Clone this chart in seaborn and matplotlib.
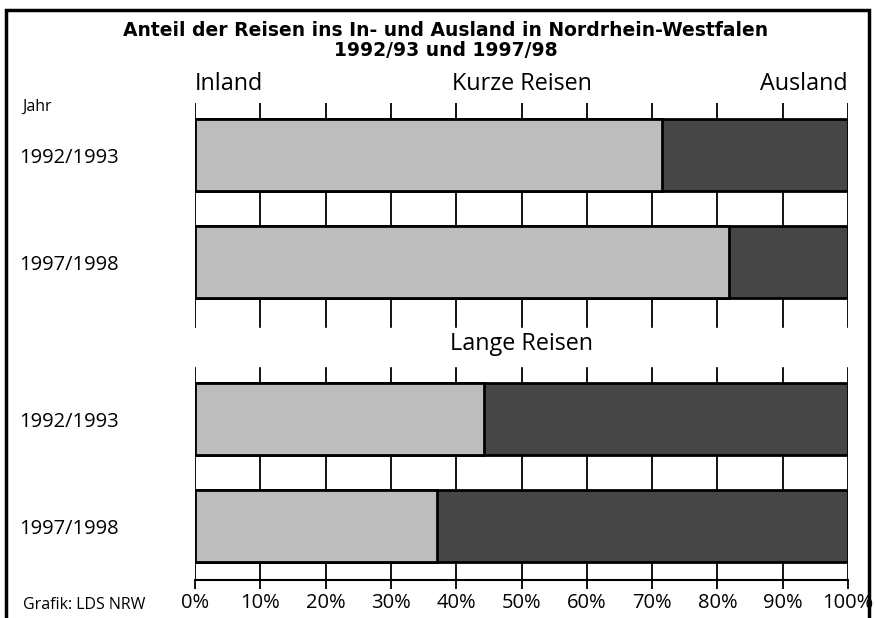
import pandas as pd
import seaborn as sns
import matplotlib.pyplot as plt
from matplotlib.patches import Rectangle

# Anteile in Prozent
jahre = ["1992/1993", "1997/1998", "1992/1993", "1997/1998"]
gruppe = ["Kurze Reisen", "Kurze Reisen", "Lange Reisen", "Lange Reisen"]
inland = [71.5, 81.8, 44.3, 37.1]
ausland = [28.5, 18.2, 55.7, 62.9]
pos = [0, 1, 2.47, 3.47]
xticks = [0, 10, 20, 30, 40, 50, 60, 70, 80, 90, 100]

df = pd.DataFrame({"pos": pos, "jahr": jahre, "gruppe": gruppe,
                   "inland": inland, "ausland": ausland})
df["gesamt"] = df["inland"] + df["ausland"]

sns.set_style("white", rc={"text.color": "black", "xtick.color": "black",
                           "ytick.color": "black"})
plt.rcParams["font.family"] = ["Open Sans", "DejaVu Sans"]

fig = plt.figure(figsize=(8.75, 6.18), dpi=100)
ax = fig.add_axes([195 / 875, 1 - 580 / 618, 653 / 875, 477 / 618])

# Gitterlinien hinter den Balken
for t in xticks:
    ax.axvline(t, color="black", lw=1.3, zorder=0)
# weisser Streifen fuer "Lange Reisen"
ax.axhspan(1.62, 1.97, color="white", zorder=1)

sns.barplot(data=df, x="gesamt", y="pos", orient="h", native_scale=True,
            width=0.67, color="#464646", edgecolor="black", linewidth=2,
            saturation=1, ax=ax, zorder=2)
sns.barplot(data=df, x="inland", y="pos", orient="h", native_scale=True,
            width=0.67, color="#bdbdbd", edgecolor="black", linewidth=2,
            saturation=1, ax=ax, zorder=3)

ax.set_xlim(0, 100)
ax.set_ylim(3.972, -0.486)
ax.set_xticks(xticks, [f"{t}%" for t in xticks])
ax.set_yticks(pos, jahre)
ax.set_xlabel("")
ax.set_ylabel("")
ax.tick_params(axis="x", direction="out", length=6.5, width=1.3, color="black",
               labelsize=14.5, pad=3, bottom=True)
ax.tick_params(axis="y", length=0, labelsize=14.5, pad=55)
for s in ["top", "left", "right"]:
    ax.spines[s].set_visible(False)
ax.spines["bottom"].set_linewidth(1.5)
ax.spines["bottom"].set_color("black")

# Ueberschriften
ax.text(0, -0.66, "Inland", ha="left", va="center", fontsize=16.8, clip_on=False)
ax.text(50, -0.66, "Kurze Reisen", ha="center", va="center", fontsize=16.8, clip_on=False)
ax.text(100, -0.66, "Ausland", ha="right", va="center", fontsize=16.8, clip_on=False)
ax.text(50, 1.77, "Lange Reisen", ha="center", va="center", fontsize=16.8, zorder=4)

fig.text(446 / 875, 1 - 30 / 618, "Anteil der Reisen ins In- und Ausland in Nordrhein-Westfalen",
         ha="center", va="center", fontsize=13.5, fontweight="bold", family="DejaVu Sans")
fig.text(446 / 875, 1 - 51 / 618, "1992/93 und 1997/98",
         ha="center", va="center", fontsize=13.5, fontweight="bold", family="DejaVu Sans")
fig.text(22 / 875, 1 - 107 / 618, "Jahr", ha="left", va="center", fontsize=11.5)
fig.text(23 / 875, 1 - 605 / 618, "Grafik: LDS NRW", ha="left", va="center", fontsize=11.5)

# Rahmen
fig.patches.append(Rectangle((6 / 875, -0.05), 863 / 875, 1.05 - 10 / 618,
                             transform=fig.transFigure, fill=False,
                             edgecolor="black", lw=2.5, zorder=-1))

fig.savefig("out.png", dpi=100)
